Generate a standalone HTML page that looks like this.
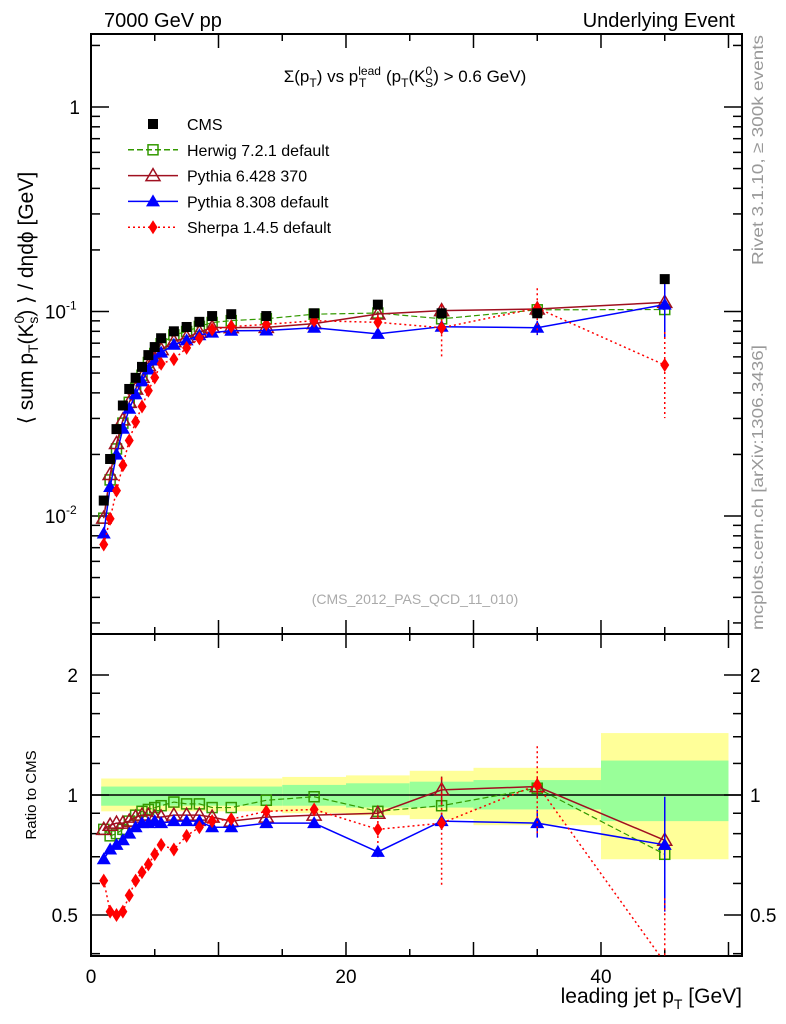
<!DOCTYPE html>
<html><head><meta charset="utf-8"><style>
html,body{margin:0;padding:0;background:#fff;}
svg{display:block;font-family:"Liberation Sans",sans-serif;}
</style></head><body>
<svg id="chart" width="786" height="1024" viewBox="0 0 786 1024" xmlns="http://www.w3.org/2000/svg">
<g id="bands"></g>
<g id="grid"></g>
<g id="series"></g>
<text x="104" y="27" font-size="20">7000 GeV pp</text>
<text x="735" y="27" font-size="20" text-anchor="end">Underlying Event</text>
<text x="405" y="82" font-size="17" text-anchor="middle">Σ(p<tspan font-size="12" dy="5">T</tspan><tspan dy="-5">) vs p</tspan><tspan font-size="12" dy="-7">lead</tspan><tspan font-size="12" dx="-22" dy="12">T</tspan><tspan dy="-5" dx="15"> (p</tspan><tspan font-size="12" dy="5">T</tspan><tspan dy="-5">(K</tspan><tspan font-size="12" dy="-7">0</tspan><tspan font-size="12" dx="-7" dy="12">S</tspan><tspan dy="-5">) &gt; 0.6 GeV)</tspan></text>
<text x="415" y="604" font-size="14" fill="#aaa" text-anchor="middle">(CMS_2012_PAS_QCD_11_010)</text>
<text transform="translate(33,298) rotate(-90)" font-size="21" text-anchor="middle">⟨ sum p<tspan font-size="14" dy="5">T</tspan><tspan dy="-5">(K</tspan><tspan font-size="14" dy="-9">0</tspan><tspan font-size="14" dx="-8" dy="14">s</tspan><tspan dy="-5">) ⟩ / dηdϕ [GeV]</tspan></text>
<text transform="translate(36,795) rotate(-90)" font-size="15" text-anchor="middle">Ratio to CMS</text>
<text x="742" y="1003" font-size="21" text-anchor="end">leading jet p<tspan font-size="14" dy="6">T</tspan><tspan dy="-6"> [GeV]</tspan></text>
<text transform="translate(763,265) rotate(-90)" font-size="16" fill="#999" textLength="230" lengthAdjust="spacingAndGlyphs">Rivet 3.1.10, ≥ 300k events</text>
<text transform="translate(763,630) rotate(-90)" font-size="16" fill="#999" textLength="285" lengthAdjust="spacingAndGlyphs">mcplots.cern.ch [arXiv:1306.3436]</text>
<g id="legend"></g>
</svg>
<script>
const xVals=[1,1.5,2,2.5,3,3.5,4,4.5,5,5.5,6.5,7.5,8.5,9.5,11,13.75,17.5,22.5,27.5,35,45];
const cmsVals=[0.0119,0.019,0.0266,0.0347,0.0418,0.0474,0.0536,0.0612,0.067,0.074,0.080,0.084,0.089,0.095,0.097,0.095,0.098,0.108,0.098,0.098,0.144];
const herwigRatio=[0.82,0.79,0.80,0.82,0.86,0.89,0.91,0.92,0.93,0.94,0.96,0.95,0.95,0.93,0.93,0.97,0.99,0.91,0.94,1.04,0.71];
const py6Ratio=[0.82,0.84,0.85,0.85,0.86,0.88,0.89,0.89,0.88,0.88,0.89,0.89,0.89,0.88,0.86,0.88,0.89,0.90,1.03,1.05,0.77];
const py8Ratio=[0.69,0.73,0.75,0.77,0.80,0.83,0.85,0.85,0.86,0.85,0.86,0.86,0.86,0.83,0.83,0.85,0.85,0.72,0.86,0.85,0.75];
const sherpaRatio=[0.61,0.51,0.50,0.51,0.56,0.61,0.64,0.67,0.71,0.75,0.73,0.79,0.83,0.86,0.87,0.91,0.92,0.82,0.85,1.06,0.38];
const herwigErr=[0,0,0,0,0,0,0,0,0,0,0,0,0,0,0,0,0,0.02,0.03,0.06,0.2];
const py6Err=[0,0,0,0,0,0,0,0,0,0,0,0,0,0,0,0,0,0.02,0.08,0.06,0.25];
const py8Err=[0,0,0,0,0,0,0,0,0,0,0,0,0,0,0,0,0,0.03,0.05,0.08,0.32];
const sherpaErr=[0,0,0,0,0,0,0,0,0,0,0,0,0,0,0,0,0,0.08,0.3,0.25,0.45];
const bandEdges=[0.8,15,20,25,30,40,50];
const yellowLo=[0.91,0.90,0.89,0.87,0.84,0.69];
const yellowHi=[1.10,1.11,1.12,1.15,1.17,1.43];
const greenLo=[0.94,0.94,0.93,0.93,0.92,0.86];
const greenHi=[1.05,1.06,1.07,1.08,1.09,1.22];
const xTicks=[0,20,40];
const mainYTicks=[{v:0.01,t:"10"},{v:0.1,t:"10"},{v:1,t:"1"}];
const ratioYTicks=[0.5,1,2];

const NS="http://www.w3.org/2000/svg";
const L=91,R=742,MT=34,MB=634,RB=956;
const X=v=>L+(v-0)*(R-L)/51.06;
const Y=v=>107-Math.log10(v)*204.5;
const YR=v=>795-Math.log10(v)*398.7;
function mk(p,tag,a){const e=document.createElementNS(NS,tag);for(const k in a)e.setAttribute(k,a[k]);p.appendChild(e);return e;}
const G=document.getElementById('grid'),S=document.getElementById('series'),B=document.getElementById('bands'),LG=document.getElementById('legend');
for(let i=0;i<bandEdges.length-1;i++){
 const x1=X(bandEdges[i]),x2=X(bandEdges[i+1]);
 const y=mk(B,'rect',{x:x1,y:YR(yellowHi[i]),width:x2-x1,height:YR(yellowLo[i])-YR(yellowHi[i]),fill:'#ffff99'});
 
 const g=mk(B,'rect',{x:x1,y:YR(greenHi[i]),width:x2-x1,height:YR(greenLo[i])-YR(greenHi[i]),fill:'#99ff99'});
 
}
mk(G,'rect',{x:L,y:MT,width:R-L,height:MB-MT,fill:'none',stroke:'#000','stroke-width':2});
mk(G,'rect',{x:L,y:MB,width:R-L,height:RB-MB,fill:'none',stroke:'#000','stroke-width':2});
mk(G,'line',{x1:L,x2:R,y1:YR(1),y2:YR(1),stroke:'#000','stroke-width':1.5});
for(let v=0;v<=50;v+=5){const maj=v%10==0,len=maj?14:7;const x=X(v);
 [[MT,1],[MB,-1],[MB,1],[RB,-1]].forEach(([y0,d])=>mk(G,'line',{x1:x,x2:x,y1:y0,y2:y0+d*len,stroke:'#000','stroke-width':1.5}));}
xTicks.forEach(v=>{const t=mk(G,'text',{x:X(v),y:983,'font-size':19,'text-anchor':'middle'});t.textContent=v;
 });
for(let e=-3;e<=0;e++)for(let m=1;m<=9;m++){const v=m*Math.pow(10,e);const y=Y(v);if(y<MT||y>MB)continue;const len=m==1?18:9;
 mk(G,'line',{x1:L,x2:L+len,y1:y,y2:y,stroke:'#000','stroke-width':1.5});mk(G,'line',{x1:R,x2:R-len,y1:y,y2:y,stroke:'#000','stroke-width':1.5});}
mainYTicks.forEach(o=>{const t=mk(G,'text',{x:o.t=="1"?80:66,y:Y(o.v)+7,'font-size':19,'text-anchor':'end'});t.textContent=o.t;
 
 if(o.t=="10"){const s=mk(G,'text',{x:66,y:Y(o.v)-2,'font-size':12});s.textContent=Math.round(Math.log10(o.v));
 }});
[0.4,0.5,0.6,0.7,0.8,0.9,1,2].forEach(v=>{const y=YR(v);if(y<MB||y>RB)return;const len=(v==1||v==0.5||v==2)?18:9;
 mk(G,'line',{x1:L,x2:L+len,y1:y,y2:y,stroke:'#000','stroke-width':1.5});mk(G,'line',{x1:R,x2:R-len,y1:y,y2:y,stroke:'#000','stroke-width':1.5});});
[1.2,1.4,1.6,1.8].forEach(v=>{const y=YR(v);mk(G,'line',{x1:R,x2:R-9,y1:y,y2:y,stroke:'#000','stroke-width':1.5});mk(G,'line',{x1:L,x2:L+9,y1:y,y2:y,stroke:'#000','stroke-width':1.5});});
ratioYTicks.forEach(v=>{[[78,'end'],[750,'start']].forEach(([x,a])=>{const t=mk(G,'text',{x:x,y:YR(v)+7,'font-size':19,'text-anchor':a});t.textContent=v;
 });});
function marker(p,type,x,y,col){
 if(type=='sq')return mk(p,'rect',{x:x-5,y:y-5,width:10,height:10,fill:'#000'});
 if(type=='osq')return mk(p,'rect',{x:x-5,y:y-5,width:10,height:10,fill:'none',stroke:col,'stroke-width':1.5});
 if(type=='otri')return mk(p,'polygon',{points:`${x},${y-7} ${x-7},${y+5} ${x+7},${y+5}`,fill:'none',stroke:col,'stroke-width':1.5});
 if(type=='tri')return mk(p,'polygon',{points:`${x},${y-7} ${x-7},${y+5} ${x+7},${y+5}`,fill:col});
 if(type=='dia')return mk(p,'polygon',{points:`${x},${y-7} ${x-4.5},${y} ${x},${y+7} ${x+4.5},${y}`,fill:col});}
const clipM=mk(S,'clipPath',{id:'cm'});mk(clipM,'rect',{x:L,y:MT,width:R-L,height:MB-MT});
const clipR=mk(S,'clipPath',{id:'cr'});mk(clipR,'rect',{x:L,y:MB,width:R-L,height:RB-MB});
const models=[
 {name:'herwig',ratio:herwigRatio,err:herwigErr,col:'#339900',type:'osq',dash:'6,3',w:1.2},
 {name:'pythia6',ratio:py6Ratio,err:py6Err,col:'#a01020',type:'otri',dash:'',w:1.5},
 {name:'pythia8',ratio:py8Ratio,err:py8Err,col:'#0000ff',type:'tri',dash:'',w:1.5},
 {name:'sherpa',ratio:sherpaRatio,err:sherpaErr,col:'#ff0000',type:'dia',dash:'2,3',w:1.5}];
models.forEach(m=>{
 [[Y,'cm',i=>cmsVals[i]*m.ratio[i]],[YR,'cr',i=>m.ratio[i]]].forEach(([YF,clip,val])=>{
  const g=mk(S,'g',{'clip-path':`url(#${clip})`});
  
  const pts=xVals.map((x,i)=>X(x)+','+YF(val(i))).join(' ');
  mk(g,'polyline',{points:pts,fill:'none',stroke:m.col,'stroke-width':m.w,'stroke-dasharray':m.dash});
  xVals.forEach((x,i)=>{const v=val(i),e=m.err[i];
   if(e>0){mk(g,'line',{x1:X(x),x2:X(x),y1:YF(v*(1+e)),y2:YF(Math.max(v*(1-e),1e-4)),stroke:m.col,'stroke-width':1.5,'stroke-dasharray':m.dash});}
   const mm=marker(g,m.type,X(x),YF(v),m.col);
   });
 });});
xVals.forEach((x,i)=>{const mm=marker(S,'sq',X(x),Y(cmsVals[i]),'#000');
 });
const leg=[['sq','#000','CMS',''],['osq','#339900','Herwig 7.2.1 default','6,3'],['otri','#a01020','Pythia 6.428 370',''],['tri','#0000ff','Pythia 8.308 default',''],['dia','#ff0000','Sherpa 1.4.5 default','2,3']];
leg.forEach((l,i)=>{const y=124+i*25.8;const g=mk(LG,'g',{});
 
 if(i>0)mk(g,'line',{x1:128,x2:178,y1:y,y2:y,stroke:l[1],'stroke-width':1.5,'stroke-dasharray':l[3]});
 marker(g,l[0],153,y,l[1]);
 const t=mk(g,'text',{x:187,y:y+6,'font-size':16});t.textContent=l[2];});
</script>
</body></html>
